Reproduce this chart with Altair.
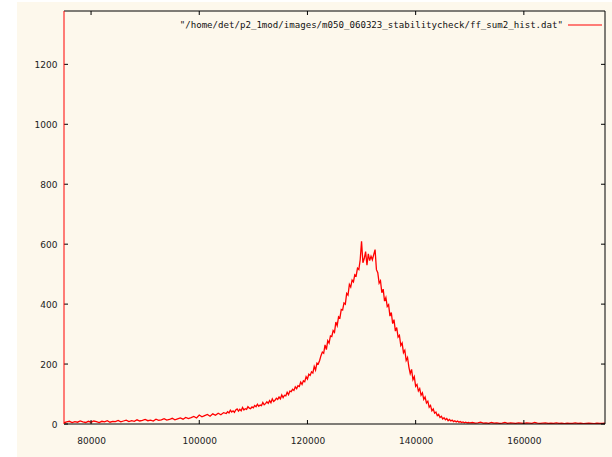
import altair as alt
import pandas as pd

# ---- data ----
x_left = list(range(75000, 105000, 500))
counts_left = [4, 7, 9, 5, 8, 6, 10, 7, 5, 9,
               6, 10, 8, 5, 9, 7, 11, 6, 9, 8,
               12, 7, 10, 13, 8, 11, 9, 14, 10, 12,
               15, 11, 13, 10, 16, 12, 14, 18, 13, 15,
               19, 14, 17, 20, 16, 22, 18, 21, 25, 20,
               30, 24, 28, 32, 26, 34, 29, 36, 31, 38]
x_mid = list(range(105000, 150000, 250))
counts_mid = [35, 41, 37, 46, 40, 44, 39, 47, 50, 43,
              49, 44, 55, 47, 51, 49, 58, 53, 51, 57,
              54, 62, 58, 66, 59, 63, 61, 72, 64, 68,
              74, 69, 78, 71, 84, 75, 79, 86, 82, 90,
              84, 97, 88, 96, 94, 106, 98, 110, 108, 116,
              112, 124, 118, 128, 125, 140, 132, 144, 141, 158,
              150, 166, 162, 174, 170, 192, 180, 203, 200, 212,
              228, 240, 236, 264, 248, 278, 270, 294, 292, 312,
              306, 340, 328, 358, 354, 382, 380, 404, 400, 436,
              430, 466, 457, 480, 474, 498, 494, 520, 515, 548,
              610, 538, 552, 575, 530, 568, 545, 560, 548, 565,
              582, 515, 505, 470, 478, 438, 450, 410, 422, 392,
              398, 360, 372, 335, 348, 310, 322, 290, 296, 262,
              270, 238, 246, 212, 222, 190, 168, 182, 148, 158,
              126, 132, 110, 118, 96, 104, 82, 90, 70, 76,
              56, 62, 44, 50, 36, 40, 28, 32, 22, 26,
              17, 21, 14, 18, 11, 15, 10, 13, 8, 11,
              7, 10, 6, 8, 5, 7, 4, 6, 4, 5]
x_right = list(range(150000, 175500, 500))
counts_right = [4, 5, 3, 4, 6, 3, 4, 2, 5, 3,
                4, 2, 3, 5, 2, 4, 3, 2, 4, 3,
                2, 4, 3, 2, 5, 3, 2, 3, 4, 2,
                3, 2, 4, 2, 3, 1, 3, 2, 2, 4,
                2, 3, 1, 2, 3, 2, 1, 3, 2, 2,
                3]

x_ticks = [80000, 100000, 120000, 140000, 160000]
y_ticks = [0, 200, 400, 600, 800, 1000, 1200]
legend_label = '"/home/det/p2_1mod/images/m050_060323_stabilitycheck/ff_sum2_hist.dat"'

X_DOMAIN = [75000, 175000]
Y_DOMAIN = [0, 1378]

W, H = 541, 413
PAD_L, PAD_T = 64, 11
CREAM = "#fdf8ec"

df = pd.DataFrame({"x": x_left + x_mid + x_right,
                   "y": counts_left + counts_mid + counts_right})
xt = pd.DataFrame({"t": x_ticks})
yt = pd.DataFrame({"t": y_ticks})
one = pd.DataFrame({"a": [0]})

xs = alt.Scale(domain=X_DOMAIN, nice=False, zero=False)
ys = alt.Scale(domain=Y_DOMAIN, nice=False)

# white margins outside the cream page
white_left = alt.Chart(one).mark_rect(color="white").encode(
    x=alt.value(-PAD_L), x2=alt.value(-PAD_L + 17),
    y=alt.value(-PAD_T), y2=alt.value(H + 40))
white_top = alt.Chart(one).mark_rect(color="white").encode(
    x=alt.value(-PAD_L), x2=alt.value(W + 10),
    y=alt.value(-PAD_T), y2=alt.value(-PAD_T + 2))

line = alt.Chart(df).mark_line(color="#ff0000", strokeWidth=1.3,
                               interpolate="linear", clip=True).encode(
    x=alt.X("x:Q", scale=xs,
            axis=alt.Axis(values=x_ticks, format="d", ticks=False, domain=False,
                          grid=False, title=None, labelFont="DejaVu Sans",
                          labelFontSize=9, labelColor="#222", labelPadding=12)),
    y=alt.Y("y:Q", scale=ys,
            axis=alt.Axis(values=y_ticks, format="d", ticks=False, domain=False,
                          grid=False, title=None, labelFont="DejaVu Sans",
                          labelFontSize=9, labelColor="#222", labelPadding=7)),
)

tick_bottom = alt.Chart(xt).mark_rule(color="#000").encode(
    x=alt.X("t:Q", scale=xs), y=alt.value(H), y2=alt.value(H - 4))
tick_top = alt.Chart(xt).mark_rule(color="#000").encode(
    x=alt.X("t:Q", scale=xs), y=alt.value(0), y2=alt.value(4))
tick_left = alt.Chart(yt).mark_rule(color="#000").encode(
    y=alt.Y("t:Q", scale=ys), x=alt.value(0), x2=alt.value(4))
tick_right = alt.Chart(yt).mark_rule(color="#000").encode(
    y=alt.Y("t:Q", scale=ys), x=alt.value(W - 4), x2=alt.value(W))

frame_top = alt.Chart(one).mark_rule(color="#000").encode(
    x=alt.value(0), x2=alt.value(W), y=alt.value(0))
frame_bottom = alt.Chart(one).mark_rule(color="#000").encode(
    x=alt.value(0), x2=alt.value(W), y=alt.value(H))
frame_right = alt.Chart(one).mark_rule(color="#000").encode(
    x=alt.value(W), y=alt.value(0), y2=alt.value(H))
frame_left = alt.Chart(one).mark_rule(color="#ff0000").encode(
    x=alt.value(0), y=alt.value(0), y2=alt.value(H))

legend_text = alt.Chart(one).mark_text(
    align="right", baseline="middle", font="DejaVu Sans Mono",
    fontSize=9.1, color="#111").encode(
    x=alt.value(563 - PAD_L), y=alt.value(25 - PAD_T),
    text=alt.value(legend_label))
legend_line = alt.Chart(one).mark_rule(color="#ff0000").encode(
    x=alt.value(568 - PAD_L), x2=alt.value(602 - PAD_L),
    y=alt.value(25 - PAD_T))

chart = alt.layer(
    white_left, white_top, line,
    tick_bottom, tick_top, tick_left, tick_right,
    frame_top, frame_bottom, frame_right, frame_left,
    legend_text, legend_line,
).properties(
    width=W, height=H,
    autosize=alt.AutoSizeParams(type="none"),
    padding={"left": PAD_L, "top": PAD_T, "right": 612 - PAD_L - W,
             "bottom": 457 - PAD_T - H},
    background=CREAM,
).configure_view(stroke=None)

chart.save("out.html", embed_options={"renderer": "svg", "actions": False})
